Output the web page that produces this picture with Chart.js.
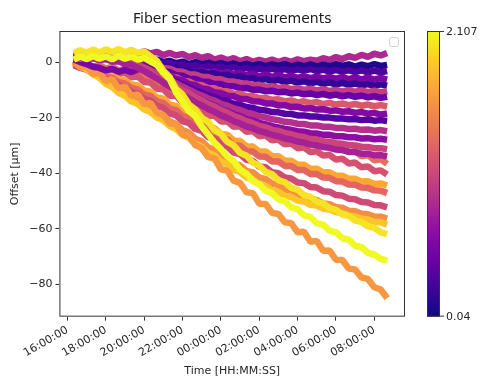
<!DOCTYPE html>
<html>
<head>
<meta charset="utf-8">
<script src="https://cdn.jsdelivr.net/npm/chart.js@4.4.0/dist/chart.umd.min.js"></script>
<style>
  html, body { margin: 0; padding: 0; background: #fff; }
  #wrap { width: 487px; height: 380px; }
</style>
</head>
<body>
<div id="wrap"><canvas id="fiber-chart" width="487" height="380"></canvas></div>
<script>
// Sample times (every 20 min)
const times = [
  '16:20','16:40','17:00','17:20','17:40','18:00','18:20','18:40','19:00','19:20',
  '19:40','20:00','20:20','20:40','21:00','21:20','21:40','22:00','22:20','22:40',
  '23:00','23:20','23:40','00:00','00:20','00:40','01:00','01:20','01:40','02:00',
  '02:20','02:40','03:00','03:20','03:40','04:00','04:20','04:40','05:00','05:20',
  '05:40','06:00','06:20','06:40','07:00','07:20','07:40','08:00','08:20','08:40'
];

// Offsets [µm] per fiber section
const p1 = [2.3,3.0,2.1,2.9,2.4,3.2,2.6,3.6,2.8,3.9, 3.1,4.0,3.2,3.8,2.6,3.4,2.5,3.0,1.9,2.6, 1.6,2.3,1.0,1.7,0.8,1.5,0.4,1.2,0.2,0.9, 0.3,1.0,0.1,0.9,0.2,1.1,0.4,1.0,0.6,1.5, 0.9,1.9,1.2,2.2,1.6,2.7,2.0,3.1,2.5,3.4];
const p2 = [1.6,2.3,1.5,2.2,1.7,2.4,1.6,2.1,1.4,2.0, 1.1,1.4,0.6,1.0,0.1,0.6,-0.3,0.3,-0.6,0.1, -0.7,-0.1,-0.9,-0.3,-1.0,-0.4,-1.2,-0.5,-1.3,-0.6, -1.4,-0.7,-1.3,-0.6,-1.5,-0.8,-1.4,-0.7,-1.5,-0.8, -1.4,-0.6,-1.3,-0.7,-1.5,-0.8,-1.4,-0.6,-1.3,-0.9];
const p3 = [1.9,2.5,1.8,2.6,1.9,2.4,1.7,2.3,1.5,2.0, 1.0,0.9,0.3,0.4,-0.4,-0.2,-1.0,-0.8,-1.5,-1.1, -1.8,-1.3,-2.0,-1.5,-2.3,-1.7,-2.6,-2.0,-2.8,-2.2, -2.9,-2.3,-3.0,-2.4,-3.1,-2.5,-3.0,-2.4,-3.2,-2.6, -3.3,-2.7,-3.4,-2.8,-3.5,-2.9,-3.6,-3.0,-3.6,-3.1];
const p4 = [1.0,0.1,-0.6,-1.6,-2.0,-2.9,-2.4,-3.4,-2.7,-3.5, -2.5,-2.1,-1.6,-2.5,-1.9,-2.9,-2.3,-3.2,-2.6,-3.5, -2.9,-3.8,-3.2,-4.1,-3.5,-4.4,-3.8,-4.7,-4.1,-5.0, -4.4,-5.2,-4.6,-5.4,-4.8,-5.6,-5.0,-5.7,-5.1,-5.8, -5.2,-5.9,-5.3,-6.0,-5.4,-6.1,-5.5,-6.2,-5.6,-6.2];
const p5 = [2.2,1.7,2.4,1.8,2.5,1.9,2.3,1.6,2.0,1.2, 1.1,0.2,0.1,-0.9,-1.0,-1.9,-2.0,-2.9,-2.7,-3.7, -3.4,-4.3,-3.9,-4.9,-4.5,-5.4,-5.0,-5.9,-5.6,-6.5, -6.0,-6.8,-6.3,-7.1,-6.6,-7.3,-6.8,-7.6,-7.0,-7.8, -7.2,-8.0,-7.4,-8.1,-7.6,-8.3,-7.8,-8.5,-7.9,-8.4];
const p6 = [1.9,2.6,2.0,2.7,2.1,2.6,1.9,2.4,1.6,1.9, 0.9,0.4,-0.6,-1.0,-2.0,-2.3,-3.2,-3.4,-4.3,-4.4, -5.2,-5.3,-6.0,-6.1,-6.8,-6.9,-7.5,-7.6,-8.2,-8.1, -8.7,-8.6,-9.2,-9.0,-9.6,-9.3,-9.9,-9.5,-10.1,-9.7, -10.3,-9.9,-10.5,-10.0,-10.6,-10.1,-10.7,-10.2,-10.8,-10.3];
const p7 = [1.4,2.1,1.5,2.2,1.6,2.1,1.4,1.9,1.1,1.4, 0.2,-0.4,-1.6,-2.0,-3.2,-3.5,-4.6,-4.8,-5.9,-6.0, -6.9,-7.0,-7.8,-7.8,-8.6,-8.6,-9.3,-9.2,-9.9,-9.8, -10.4,-10.2,-10.8,-10.6,-11.2,-10.9,-11.5,-11.2,-11.8,-11.4, -12.0,-11.6,-12.2,-11.8,-12.4,-12.0,-12.6,-12.2,-12.8,-12.4];
const p8 = [2.0,1.5,2.2,1.6,2.1,1.4,1.8,1.0,1.2,0.3, -0.2,-1.4,-2.0,-3.2,-3.8,-5.0,-5.4,-6.6,-6.9,-8.0, -8.2,-9.2,-9.3,-10.3,-10.4,-11.3,-11.3,-12.2,-12.1,-12.9, -12.8,-13.5,-13.3,-14.0,-13.7,-14.4,-14.0,-14.7,-14.3,-15.0, -14.6,-15.2,-14.8,-15.4,-15.0,-15.6,-15.2,-15.8,-15.4,-15.9];
const p9 = [1.7,2.3,1.6,2.2,1.5,2.0,1.3,1.7,0.8,0.9, -0.1,-0.9,-2.1,-2.8,-4.1,-4.7,-6.0,-6.5,-7.8,-8.2, -9.4,-9.7,-10.8,-11.0,-12.0,-12.2,-13.1,-13.2,-14.0,-14.1, -14.8,-14.8,-15.5,-15.4,-16.1,-16.0,-16.6,-16.5,-17.0,-16.9, -17.4,-17.3,-17.8,-17.6,-18.2,-17.9,-18.5,-18.2,-18.8,-18.4];
const p10 = [2.1,1.6,2.3,1.7,2.2,1.5,1.9,1.0,1.2,0.2, -0.4,-1.7,-2.5,-3.8,-4.6,-6.0,-6.8,-8.1,-8.9,-10.1, -10.8,-11.9,-12.5,-13.5,-14.0,-14.9,-15.3,-16.1,-16.4,-17.1, -17.3,-17.9,-18.0,-18.5,-18.6,-19.1,-19.1,-19.5,-19.5,-19.9, -19.9,-20.2,-20.2,-20.5,-20.4,-20.8,-20.6,-21.0,-20.8,-21.1];
const p11 = [1.6,2.2,1.5,2.1,1.3,1.8,0.9,1.2,0.2,0.3, -0.8,-1.8,-2.9,-4.0,-5.2,-6.3,-7.5,-8.7,-9.8,-11.0, -11.9,-13.0,-13.8,-14.9,-15.6,-16.6,-17.2,-18.1,-18.6,-19.4, -19.8,-20.5,-20.8,-21.4,-21.6,-22.1,-22.2,-22.7,-22.7,-23.2, -23.2,-23.6,-23.6,-24.0,-23.9,-24.3,-24.2,-24.6,-24.4,-24.8];
const p12 = [1.3,1.9,1.2,1.8,1.0,1.5,0.6,0.8,-0.2,-0.3, -1.3,-2.4,-3.6,-4.8,-6.1,-7.4,-8.7,-10.0,-11.2,-12.5, -13.5,-14.7,-15.6,-16.8,-17.6,-18.7,-19.4,-20.4,-20.9,-21.8, -22.3,-23.0,-23.4,-24.0,-24.3,-24.8,-25.0,-25.5,-25.6,-26.1, -26.1,-26.6,-26.6,-27.0,-27.0,-27.4,-27.3,-27.7,-27.5,-27.9];
const p13 = [1.8,1.3,2.0,1.4,1.9,1.1,1.5,0.6,0.7,-0.4, -0.6,-2.0,-3.0,-4.6,-5.7,-7.3,-8.4,-10.0,-11.1,-12.6, -13.6,-15.0,-15.9,-17.2,-18.1,-19.3,-20.1,-21.2,-21.9,-22.9, -23.4,-24.3,-24.7,-25.5,-25.9,-26.6,-26.9,-27.6,-27.8,-28.4, -28.6,-29.1,-29.3,-29.8,-29.9,-30.4,-30.5,-30.9,-30.9,-31.3];
const p14 = [1.2,1.8,1.1,1.6,0.8,1.2,0.3,0.4,-0.6,-0.9, -2.0,-3.1,-4.5,-5.8,-7.3,-8.7,-10.2,-11.6,-13.0,-14.4, -15.5,-16.8,-17.8,-19.1,-20.0,-21.2,-22.0,-23.1,-23.7,-24.7, -25.3,-26.1,-26.6,-27.4,-27.8,-28.5,-28.9,-29.6,-29.9,-30.5, -30.8,-31.4,-31.6,-32.2,-32.3,-32.9,-32.9,-33.5,-33.4,-33.9];
const o1 = [-0.2,-1.1,-0.4,-1.6,-0.9,-2.3,-1.5,-3.0,-2.2,-3.8, -3.3,-5.2,-5.4,-7.6,-7.9,-10.2,-10.3,-12.6,-12.5,-14.9, -14.6,-16.9,-16.6,-18.7,-18.4,-20.5,-20.1,-22.0,-21.6,-23.6, -23.0,-24.9,-24.3,-26.1,-25.5,-27.3,-26.6,-28.3,-27.6,-29.3, -29.2,-31.0,-30.5,-32.4,-31.9,-33.8,-33.3,-35.3,-34.9,-36.6];
const o2 = [-0.6,-1.6,-1.0,-2.3,-1.8,-3.2,-2.6,-4.2,-3.7,-5.4, -5.0,-7.1,-7.3,-9.5,-9.7,-12.0,-12.1,-14.5,-14.6,-16.9, -17.0,-19.2,-19.1,-21.3,-21.2,-23.2,-23.0,-25.0,-24.7,-26.6, -26.3,-28.1,-27.8,-29.5,-29.2,-30.9,-30.6,-32.3,-32.0,-33.6, -33.3,-35.0,-34.7,-36.4,-36.1,-37.8,-37.5,-39.2,-38.9,-40.4];
const o3 = [0.2,-1.0,-1.2,-2.6,-2.8,-4.3,-4.5,-6.1,-6.4,-8.0, -8.3,-10.1,-10.6,-12.6,-13.1,-15.2,-15.7,-17.9,-18.4,-20.6, -21.1,-23.3,-23.7,-25.8,-26.1,-28.1,-28.3,-30.2,-30.3,-32.1, -32.1,-33.8,-33.8,-35.4,-35.4,-36.9,-36.9,-38.3,-38.3,-39.6, -39.6,-40.8,-40.8,-41.9,-41.9,-42.9,-42.8,-43.8,-43.6,-44.3];
const o4 = [-0.3,-1.5,-1.8,-3.2,-3.6,-5.1,-5.5,-7.1,-7.6,-9.2, -9.8,-11.6,-12.1,-14.1,-14.6,-16.7,-17.2,-19.4,-19.9,-22.1, -22.6,-24.8,-25.2,-27.4,-27.7,-29.8,-30.0,-32.0,-32.1,-33.9, -34.0,-35.7,-35.7,-37.3,-37.3,-38.8,-38.8,-40.2,-40.2,-41.5, -41.6,-42.8,-42.9,-44.0,-44.1,-45.1,-45.2,-46.1,-46.2,-47.1];
const o5 = [-1.0,-2.0,-2.6,-3.9,-4.5,-6.0,-6.6,-8.3,-8.9,-10.6, -11.3,-13.1,-13.8,-15.7,-16.4,-18.4,-19.1,-21.2,-21.9,-24.0, -24.7,-26.9,-27.5,-29.7,-30.3,-32.5,-33.0,-35.1,-35.5,-37.5, -37.8,-39.6,-39.9,-41.5,-41.8,-43.3,-43.5,-44.9,-45.1,-46.4, -46.6,-47.8,-48.0,-49.1,-49.3,-50.3,-50.5,-51.4,-51.5,-52.2];
const o6 = [0.0,-1.6,-2.4,-4.2,-5.0,-7.0,-7.8,-9.8,-10.7,-12.6, -13.5,-15.4,-16.3,-18.3,-19.2,-21.3,-22.2,-24.4,-25.3,-27.5, -28.4,-30.6,-31.4,-33.6,-34.3,-36.4,-37.1,-39.1,-39.6,-41.5, -42.0,-43.7,-44.2,-45.8,-46.2,-47.7,-48.0,-49.3,-49.6,-50.8, -51.1,-52.2,-52.4,-53.4,-53.6,-54.5,-54.7,-55.5,-55.6,-56.3];
const o7 = [0.4,-1.2,-2.5,-4.3,-5.6,-7.7,-8.9,-11.0,-12.0,-14.1, -15.0,-17.0,-17.9,-19.9,-20.9,-23.0,-24.0,-26.1,-27.2,-29.4, -30.4,-32.6,-33.5,-35.7,-36.6,-38.7,-39.5,-41.5,-42.1,-44.0, -44.5,-46.2,-46.6,-48.1,-48.5,-49.8,-50.1,-51.3,-51.6,-52.7, -53.0,-54.0,-54.3,-55.2,-55.5,-56.3,-56.6,-57.4,-57.6,-58.5];
const lowest = [0.5,-1.8,-1.4,-4.2,-3.6,-6.8,-6.0,-9.4,-8.7,-12.1, -11.5,-15.1,-14.6,-18.2,-18.9,-22.0,-22.3,-26.1,-26.5,-29.8, -30.9,-34.1,-34.6,-38.5,-39.0,-42.6,-43.4,-46.8,-47.1,-50.9, -51.0,-54.2,-54.6,-57.6,-57.9,-61.2,-61.0,-64.6,-64.3,-67.9, -67.8,-71.1,-71.2,-74.3,-74.6,-77.5,-78.0,-81.0,-81.8,-84.9];
const y2 = [3.3,4.4,3.5,4.6,3.6,4.7,3.7,4.8,3.6,4.5, 3.4,3.9,2.2,0.5,-3.0,-5.4,-9.6,-11.6,-15.2,-16.9, -20.0,-21.4,-24.5,-25.7,-28.6,-29.9,-32.6,-33.6,-36.1,-37.2, -39.4,-40.3,-42.4,-43.2,-45.2,-45.9,-47.8,-48.4,-50.2,-50.8, -52.5,-53.1,-54.8,-55.3,-57.0,-57.5,-59.1,-59.6,-61.2,-61.9];
const y1 = [1.0,2.1,1.2,2.3,1.3,2.2,1.1,2.4,1.3,2.1, 1.0,1.6,0.3,-0.9,-3.8,-6.0,-10.9,-14.2,-17.6,-19.4, -23.1,-26.0,-28.9,-31.2,-33.9,-35.6,-38.6,-40.1,-42.8,-43.9, -46.2,-47.1,-49.3,-50.0,-52.2,-52.9,-55.1,-55.7,-57.9,-58.5, -60.6,-61.2,-63.3,-63.9,-66.0,-66.6,-68.6,-69.2,-70.8,-71.4];

// draw order (first = bottom) and colour-bar value of each section
const sections = [o1, o2, o3, o4, o5, o6, o7, lowest, p1, p2, p3, p4, p5, p6, p7, p8, p9, p10, p11, p12, p13, p14, y2, y1];
const sectionLevels = [1.35, 1.15, 1.7, 1.3, 1.1, 1.55, 1.85, 1.6, 0.85, 0.12, 0.3, 0.55, 0.2, 1.0, 0.45, 1.2, 0.6, 0.35, 0.9, 0.65, 1.05, 0.8, 2.0, 2.107];
const levelMin = 0.04;
const levelMax = 2.107;

const xTickHours = [0, 2, 4, 6, 8, 10, 12, 14, 16];
const xTickLabels = ['16:00:00', '18:00:00', '20:00:00', '22:00:00', '00:00:00', '02:00:00', '04:00:00', '06:00:00', '08:00:00'];
const yTicks = [-80, -60, -40, -20, 0];

// plasma colormap
const PLASMA = [[13,8,135],[65,4,157],[106,0,168],[143,13,164],[177,42,144],[204,71,120],[225,100,98],[242,132,75],[252,166,54],[252,206,37],[240,249,33]];
function plasma(t) {
  t = Math.max(0, Math.min(1, t)) * (PLASMA.length - 1);
  const i = Math.min(Math.floor(t), PLASMA.length - 2), f = t - i;
  const a = PLASMA[i], b = PLASMA[i + 1];
  return `rgb(${a.map((v, j) => Math.round(v + (b[j] - v) * f)).join(',')})`;
}

function toHours(s) {
  const [h, m] = s.split(':').map(Number);
  return (h < 16 ? h + 24 : h) + m / 60 - 16;
}

const xs = times.map(toHours);
const FONT = 'DejaVu Sans';

const datasets = sections.map((vals, i) => ({
  data: vals.map((v, k) => ({ x: xs[k], y: v })),
  borderColor: plasma((sectionLevels[i] - levelMin) / (levelMax - levelMin)),
  borderWidth: 6.5,
  borderJoinStyle: 'bevel',
  pointRadius: 0,
  tension: 0,
  fill: false
})).reverse(); // dataset 0 is drawn on top

// frame, title, empty legend box and colour bar
const extras = {
  id: 'extras',
  afterDraw(chart) {
    const { ctx, chartArea: a } = chart;
    ctx.save();
    ctx.strokeStyle = '#333';
    ctx.lineWidth = 1;
    ctx.strokeRect(a.left + 0.5, a.top + 0.5, a.right - a.left - 1, a.bottom - a.top - 1);

    ctx.fillStyle = '#1a1a1a';
    ctx.font = `14px "${FONT}"`;
    ctx.textAlign = 'center';
    ctx.textBaseline = 'alphabetic';
    ctx.fillText('Fiber section measurements', (a.left + a.right) / 2, a.top - 8);

    // empty legend
    ctx.strokeStyle = '#d0d0d0';
    ctx.beginPath();
    ctx.roundRect(a.right - 15.5, a.top + 6.5, 9, 9, 2);
    ctx.stroke();

    // colour bar
    const bx = 427, bw = 13, top = a.top, bot = a.bottom;
    const g = ctx.createLinearGradient(0, bot, 0, top);
    PLASMA.forEach((c, i) => g.addColorStop(i / (PLASMA.length - 1), `rgb(${c.join(',')})`));
    ctx.fillStyle = g;
    ctx.fillRect(bx, top, bw, bot - top);
    ctx.strokeStyle = '#333';
    ctx.strokeRect(bx + 0.5, top + 0.5, bw - 1, bot - top - 1);
    ctx.beginPath();
    ctx.moveTo(bx + bw, top + 0.5); ctx.lineTo(bx + bw + 4, top + 0.5);
    ctx.moveTo(bx + bw, bot - 0.5); ctx.lineTo(bx + bw + 4, bot - 0.5);
    ctx.stroke();
    ctx.fillStyle = '#262626';
    ctx.font = `11px "${FONT}"`;
    ctx.textAlign = 'left';
    ctx.textBaseline = 'middle';
    ctx.fillText(String(levelMax), bx + bw + 6, top + 1);
    ctx.fillText(String(levelMin), bx + bw + 6, bot);
    ctx.restore();
  }
};

new Chart(document.getElementById('fiber-chart'), {
  type: 'line',
  data: { datasets },
  plugins: [extras],
  options: {
    responsive: false,
    animation: false,
    devicePixelRatio: 1,
    layout: { padding: { top: 31, right: 82, left: 9, bottom: 2 } },
    plugins: { legend: { display: false }, tooltip: { enabled: false } },
    scales: {
      x: {
        type: 'linear',
        min: -0.42,
        max: 17.6,
        afterBuildTicks: s => { s.ticks = xTickHours.map(v => ({ value: v })); },
        ticks: {
          minRotation: 30,
          maxRotation: 30,
          color: '#262626',
          font: { family: FONT, size: 11 },
          callback: (v) => xTickLabels[xTickHours.indexOf(v)]
        },
        grid: { drawOnChartArea: false, drawTicks: true, tickLength: 4, color: '#333' },
        border: { display: false },
        title: { display: true, text: 'Time [HH:MM:SS]', color: '#262626', font: { family: FONT, size: 11 }, padding: { top: 2, bottom: 0 } }
      },
      y: {
        min: -91.6,
        max: 11.3,
        afterBuildTicks: s => { s.ticks = yTicks.map(v => ({ value: v })); },
        ticks: {
          color: '#262626',
          font: { family: FONT, size: 11 },
          callback: (v) => (v < 0 ? '\u2212' + Math.abs(v) : String(v))
        },
        grid: { drawOnChartArea: false, drawTicks: true, tickLength: 4, color: '#333' },
        border: { display: false },
        title: { display: true, text: 'Offset [µm]', color: '#262626', font: { family: FONT, size: 11 }, padding: { top: 0, bottom: 4 } }
      }
    }
  }
});
</script>
</body>
</html>
